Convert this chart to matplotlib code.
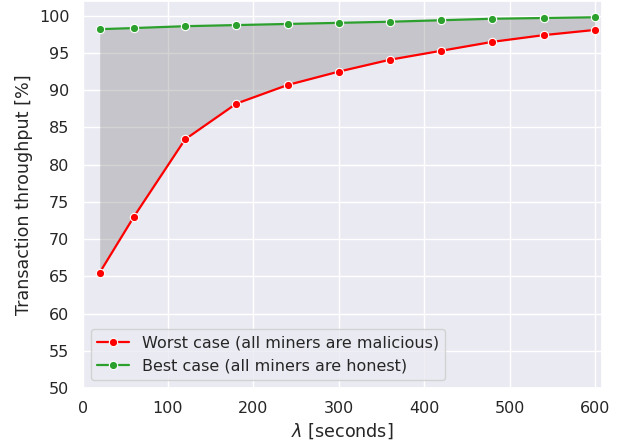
import matplotlib
matplotlib.use('Agg')
import matplotlib.pyplot as plt
import seaborn as sns
import numpy as np

sns.set_theme(style='darkgrid', context='notebook', font_scale=1.05)
plt.rcParams['font.family'] = ['DejaVu Sans']

# block interval lambda (seconds)
lam = [20, 60, 120, 180, 240, 300, 360, 420, 480, 540, 600]
# throughput in %
worst = [65.5, 73.0, 83.4, 88.2, 90.7, 92.5, 94.1, 95.3, 96.5, 97.4, 98.1]
best = [98.2, 98.35, 98.6, 98.75, 98.9, 99.05, 99.2, 99.4, 99.6, 99.7, 99.8]

fig, ax = plt.subplots(figsize=(6.21, 4.43), dpi=100)
fig.subplots_adjust(left=0.133, right=0.969, top=0.998, bottom=0.124)

ax.fill_between(lam, worst, best, color='grey', alpha=0.34, linewidth=0)
ax.plot(lam, worst, color='red', marker='o', markersize=6, markeredgecolor='white',
        markeredgewidth=0.8, linewidth=1.6, label='Worst case (all miners are malicious)')
ax.plot(lam, best, color='#2ca02c', marker='o', markersize=6, markeredgecolor='white',
        markeredgewidth=0.8, linewidth=1.6, label='Best case (all miners are honest)')

ax.set_xlim(0, 608)
ax.set_ylim(50, 102)
ax.set_xticks(np.arange(0, 601, 100))
ax.set_yticks(np.arange(50, 101, 5))
ax.set_xlabel(r'$\lambda$ [seconds]')
ax.set_ylabel('Transaction throughput [%]')
ax.legend(loc='lower left')

fig.savefig('out.png', dpi=100)
